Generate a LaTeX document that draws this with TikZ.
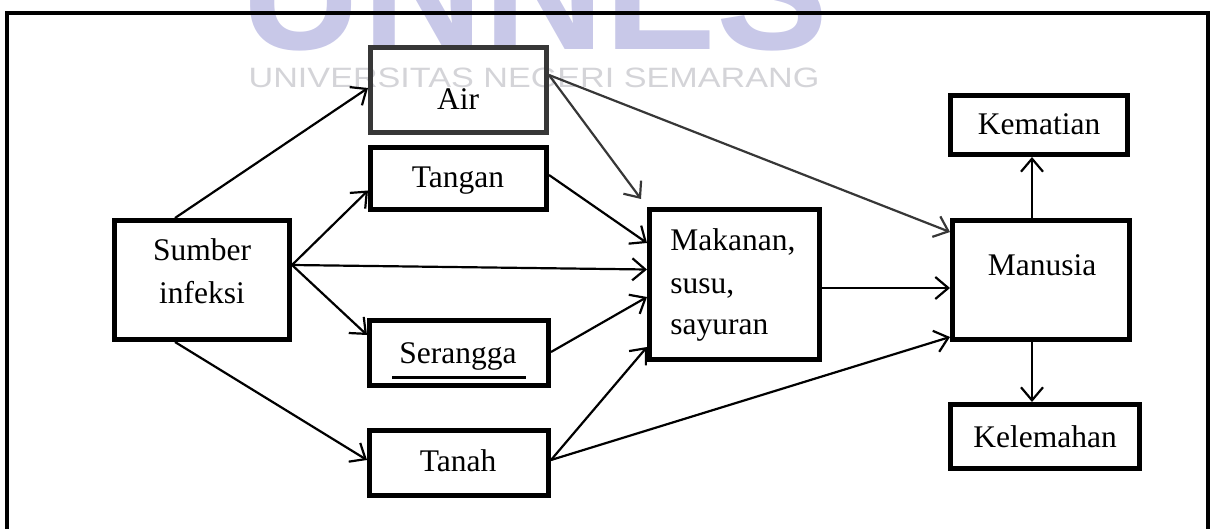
\documentclass[tikz,border=0pt]{standalone}
\usepackage{fontspec}
\setmainfont{Liberation Serif}
\newfontfamily\wmfont{Liberation Sans}
\usetikzlibrary{arrows.meta,calc}
\definecolor{wmblue}{RGB}{200,200,232}
\definecolor{wmgray}{RGB}{212,212,216}
\definecolor{dgray}{RGB}{55,55,55}
\begin{document}
\begin{tikzpicture}[x=0.5pt,y=-0.5pt,
  box/.style={draw, line width=2.5pt, inner sep=0pt},
  lbl/.style={font=\fontsize{15.75}{21}\selectfont, anchor=base, inner sep=0pt},
  arr/.style={line width=1.1pt, -{Straight Barb[length=6.5pt,width=11pt,line width=1.1pt]}},
  frame/.style={line width=2pt},
]
\useasboundingbox (0,0) rectangle (1215,529);
% watermark
\begin{scope}
\clip (0,0) rectangle (1215,529);
\node[anchor=base, inner sep=0pt, text=wmblue, font=\wmfont\bfseries\fontsize{84}{84}\selectfont] (wmbig) at (535,50) {UNNES};
\node[anchor=base, inner sep=0pt, text=wmgray, font=\wmfont\fontsize{14}{14}\selectfont, xscale=1.22] (wmtext) at (534,88) {UNIVERSITAS NEGERI SEMARANG};
\end{scope}
% outer frame
\draw[frame] (7,529) -- (7,13) -- (1208,13) -- (1208,529);
% boxes
\node[box, draw=dgray, minimum width=88pt, minimum height=42.5pt] (air) at (458.5,90) {};
\node[box, minimum width=88pt, minimum height=31pt] (tan) at (458.5,178.5) {};
\node[box, minimum width=87.5pt, minimum height=59.5pt] (sum) at (202,280) {};
\node[box, minimum width=89.5pt, minimum height=32.5pt] (ser) at (459,353) {};
\node[box, minimum width=89.5pt, minimum height=32.5pt] (tnh) at (459,463) {};
\node[box, minimum width=85pt, minimum height=75pt] (mak) at (734.5,284.5) {};
\node[box, minimum width=88.5pt, minimum height=59.5pt] (man) at (1041,280) {};
\node[box, minimum width=88.5pt, minimum height=29.5pt] (kem) at (1039,125) {};
\node[box, minimum width=94.5pt, minimum height=32pt] (kel) at (1045,436.5) {};
% labels
\node[lbl] (airT) at (458,110) {Air};
\node[lbl] (tanT) at (458,188) {Tangan};
\node[lbl] (sumT1) at (202,261) {Sumber};
\node[lbl] (sumT2) at (202,303) {infeksi};
\node[lbl] (serT) at (458,363) {Serangga};
\node[lbl] (tnhT) at (458,471) {Tanah};
\node[lbl, anchor=base west] (makT1) at (670,250) {Makanan,};
\node[lbl, anchor=base west] (makT2) at (670,293) {susu,};
\node[lbl, anchor=base west] (makT3) at (670,335) {sayuran};
\node[lbl] (manT) at (1042,276) {Manusia};
\node[lbl] (kemT) at (1039,135) {Kematian};
\node[lbl] (kelT) at (1045,447) {Kelemahan};
% underline of Serangga
\draw[line width=1.2pt] ([shift={(-33.5pt,5.25pt)}]ser.south) -- ([shift={(33.5pt,5.25pt)}]ser.south);
% connectors
\draw[arr] ([xshift=-13.5pt]sum.north) -- ([yshift=1pt]air.west);
\draw[arr] ([yshift=7.5pt]sum.east) -- ([yshift=-6pt]tan.west);
\draw[arr] ([yshift=7.5pt]sum.east) -- ([yshift=7.5pt]mak.west);
\draw[arr] ([yshift=7.5pt]sum.east) -- ([yshift=9pt]ser.west);
\draw[arr] ([xshift=-13.5pt]sum.south) -- ([yshift=1.5pt]tnh.west);
\draw[arr, draw=dgray] ([yshift=7.5pt]air.east) -- ([shift={(-3pt,4pt)}]mak.north west);
\draw[arr, draw=dgray] ([yshift=7.5pt]air.east) -- ([yshift=24pt]man.west);
\draw[arr] ([yshift=1.75pt]tan.east) -- ([yshift=20.75pt]mak.west);
\draw[arr] ([yshift=0.5pt]ser.east) -- ([yshift=-6.25pt]mak.west);
\draw[arr] ([yshift=1.5pt]tnh.east) -- ([yshift=-31.25pt]mak.west);
\draw[arr] ([yshift=1.5pt]tnh.east) -- ([yshift=-28.5pt]man.west);
\draw[arr] ([yshift=-1.75pt]mak.east) -- ([yshift=-1.75pt]mak.east -| man.west);
\draw[arr] ([xshift=-4.5pt]man.north) -- ([xshift=-4.5pt]man.north |- kem.south);
\draw[arr] ([xshift=-4.5pt]man.south) -- ([xshift=-4.5pt]man.south |- kel.north);
\end{tikzpicture}
\end{document}
